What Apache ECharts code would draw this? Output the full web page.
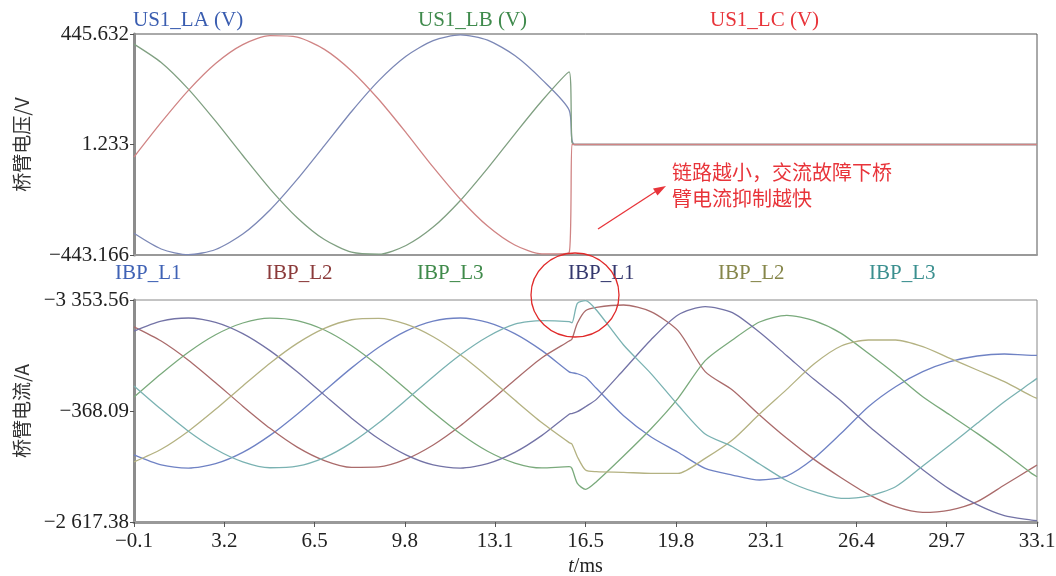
<!DOCTYPE html>
<html>
<head>
<meta charset="utf-8">
<title>桥臂电压与桥臂电流</title>
<script src="https://cdn.jsdelivr.net/npm/echarts@6/dist/echarts.min.js"></script>
<style>
  html, body { margin: 0; padding: 0; background: #fff; }
  #chartDom { width: 1056px; height: 576px; }
</style>
</head>
<body>
<div id="chartDom"></div>
<script>
// 时间轴 (ms)
var tVolt = [-0.1, 0.9, 1.9, 2.9, 3.9, 4.9, 5.9, 6.9, 7.9, 8.9, 9.9, 10.9, 11.9, 12.9, 13.9, 14.9, 15.9, 16.0, 16.1, 33.1];
var us1LA = [-356, -419, -442, -421, -359, -262, -139, -3, 134, 258, 356, 419, 442, 421, 359, 262, 139, 20, 1.2, 1.2];
var us1LB = [405, 331, 224, 95, -43, -177, -293, -381, -432, -440, -405, -331, -224, -95, 43, 177, 293, 10, 1.2, 1.2];
var us1LC = [-49, 90, 219, 327, 403, 439, 433, 384, 297, 182, 49, -90, -219, -327, -403, -439, -433, 1.2, 1.2, 1.2];

var tCur = [-0.1, 0.9, 1.9, 2.9, 3.9, 4.9, 5.9, 6.9, 7.9, 8.9, 9.9, 10.9, 11.9, 12.9, 13.9, 14.9, 15.9,
  16.0, 16.2, 16.5, 16.9, 17.9, 18.9, 19.9, 20.9, 21.9, 22.9, 23.9, 24.9, 25.9, 26.9, 27.9, 28.9, 29.9, 30.9, 31.9, 32.9, 33.1];
var ibpL1 = [-813, -1083, -1166, -1049, -746, -288, 283, 909, 1528, 2083, 2517, 2787, 2870, 2753, 2450, 1992, 1421,
  1400, 1370, 1274, 978, 241, -324, -743, -1174, -1354, -1488, -1381, -905, -232, 484, 1022, 1425, 1694, 1847, 1901, 1866, 1866];
var ibpL2 = [2632, 2250, 1734, 1128, 499, -98, -603, -964, -1148, -1136, -928, -546, -30, 576, 1205, 1802, 2250,
  2300, 2726, 3067, 3156, 3219, 3040, 2529, 1426, 932, 260, -368, -933, -1426, -1874, -2206, -2358, -2296, -2071, -1623, -1175, -1085];
var ibpL3 = [743, 1371, 1948, 2418, 2735, 2868, 2801, 2547, 2125, 1578, 961, 333, -244, -714, -1031, -1164, -1130,
  -1175, -1578, -1740, -1533, -843, -117, 708, 1722, 2278, 2762, 2941, 2798, 2457, 1919, 1354, 753, 260, -233, -753, -1309, -1399];
var ibpL1b = [2517, 2787, 2870, 2753, 2450, 1992, 1421, 795, 176, -379, -813, -1083, -1166, -1049, -746, -288, 283,
  300, 350, 484, 681, 1471, 2278, 2950, 3174, 3013, 2484, 1856, 1219, 637, -27, -628, -1210, -1740, -2152, -2448, -2565, -2583];
var ibpL2b = [-1000, -662, -175, 412, 1042, 1653, 2186, 2589, 2822, 2862, 2704, 2366, 1879, 1292, 662, 51, -482,
  -520, -861, -1220, -1265, -1282, -1309, -1309, -906, -413, 287, 950, 1632, 2116, 2278, 2278, 2098, 1784, 1471, 1157, 771, 708];
var ibpL3b = [1042, 412, -175, -662, -1000, -1158, -1117, -885, -482, 51, 662, 1292, 1879, 2366, 2704, 2800, 2770,
  2740, 3264, 3336, 3085, 2143, 1381, 529, -251, -592, -1058, -1507, -1802, -1982, -1919, -1668, -1112, -547, 36, 619, 1139, 1246];

// 刻度
var xTickVals = [-0.1, 3.22, 6.54, 9.86, 13.18, 16.5, 19.82, 23.14, 26.46, 29.78, 33.1];
var xTickText = ['\u22120.1', '3.2', '6.5', '9.8', '13.1', '16.5', '19.8', '23.1', '26.4', '29.7', '33.1'];
var voltTickVals = [-443.166, 1.233, 445.632];
var voltTickText = ['\u2212443.166', '1.233', '445.632'];
var curTickVals = [-2617.38, 368.09, 3353.56];
var curTickText = ['\u22122 617.38', '\u2212368.09', '\u22123 353.56'];

var serif = '"Liberation Serif", "DejaVu Serif", serif';
var cjk = '"Noto Sans CJK SC", sans-serif';

function pick(vals, texts) {
    return function (v) {
        var best = 0;
        for (var i = 1; i < vals.length; i++) {
            if (Math.abs(vals[i] - v) < Math.abs(vals[best] - v)) best = i;
        }
        return texts[best];
    };
}

function pairs(ts, vs) {
    return ts.map(function (t, i) { return [t, vs[i]]; });
}

function line(name, idx, ts, vs, color) {
    return {
        name: name, type: 'line', xAxisIndex: idx, yAxisIndex: idx,
        data: pairs(ts, vs), showSymbol: false, smooth: 0.25,
        lineStyle: { color: color, width: 1.3 }, itemStyle: { color: color }
    };
}

function yAxisOf(idx, min, max, vals, texts, name) {
    return {
        gridIndex: idx, type: 'value', min: min, max: max,
        splitLine: { show: false },
        axisLine: { show: true, onZero: false, lineStyle: { color: '#8c8c8c', width: 3 } },
        axisTick: { show: true, length: 4, customValues: vals, lineStyle: { color: '#555' } },
        axisLabel: { customValues: vals, formatter: pick(vals, texts), fontFamily: serif, fontSize: 21, color: '#222', margin: 5 },
        name: name, nameLocation: 'middle', nameRotate: 90, nameGap: 103,
        nameTextStyle: { fontFamily: cjk, fontSize: 19, color: '#333' }
    };
}

var legendTop = [
    { text: 'US1_LA (V)', x: 133, color: '#3a5db0' },
    { text: 'US1_LB (V)', x: 418, color: '#3f8a4c' },
    { text: 'US1_LC (V)', x: 710, color: '#e8343a' }
];
var legendBottom = [
    { text: 'IBP_L1', x: 115, color: '#3f62b5' },
    { text: 'IBP_L2', x: 266, color: '#8b3a3a' },
    { text: 'IBP_L3', x: 417, color: '#3f8a4a' },
    { text: 'IBP_L1', x: 568, color: '#34386e' },
    { text: 'IBP_L2', x: 718, color: '#86864a' },
    { text: 'IBP_L3', x: 869, color: '#3a8f8f' }
];

var graphics = [];
legendTop.forEach(function (d) {
    graphics.push({ type: 'text', x: d.x, y: 20, style: { text: d.text, fill: d.color, font: '21px ' + serif, textVerticalAlign: 'middle' } });
});
legendBottom.forEach(function (d) {
    graphics.push({ type: 'text', x: d.x, y: 273, style: { text: d.text, fill: d.color, font: '21px ' + serif, textVerticalAlign: 'middle' } });
});
graphics.push({
    type: 'text', x: 672, y: 185, z: 10,
    style: { text: '链路越小，交流故障下桥\n臂电流抑制越快', fill: '#e8343a', font: '20px ' + cjk, lineHeight: 26, textVerticalAlign: 'middle' }
});
graphics.push({ type: 'line', z: 10, shape: { x1: 598, y1: 229, x2: 658, y2: 190 }, style: { stroke: '#e8343a', lineWidth: 1.3 } });
graphics.push({ type: 'polygon', z: 10, shape: { points: [[666, 186], [657.5, 195.5], [653, 188.5]] }, style: { fill: '#e8343a' } });
graphics.push({ type: 'ellipse', z: 10, shape: { cx: 575, cy: 295, rx: 44, ry: 42 }, style: { fill: 'none', stroke: '#e02a2a', lineWidth: 1.3 } });

var chartDom = echarts.init(document.getElementById('chartDom'));
chartDom.setOption({
    backgroundColor: '#fff',
    animation: false,
    grid: [
        { left: 134, right: 19, top: 34, height: 221, outerBoundsMode: 'none', show: true, borderColor: '#555', borderWidth: 1, backgroundColor: 'transparent' },
        { left: 134, right: 19, top: 300, height: 222, outerBoundsMode: 'none', show: true, borderColor: '#888', borderWidth: 1, backgroundColor: 'transparent' }
    ],
    xAxis: [
        {
            gridIndex: 0, type: 'value', min: -0.1, max: 33.1,
            splitLine: { show: false }, axisTick: { show: false }, axisLabel: { show: false },
            axisLine: { show: true, onZero: false, lineStyle: { color: '#999', width: 2 } }
        },
        {
            gridIndex: 1, type: 'value', min: -0.1, max: 33.1,
            splitLine: { show: false },
            axisLine: { show: true, onZero: false, lineStyle: { color: '#999', width: 3 } },
            axisTick: { show: true, length: 5, customValues: xTickVals, lineStyle: { color: '#555' } },
            axisLabel: { customValues: xTickVals, formatter: pick(xTickVals, xTickText), fontFamily: serif, fontSize: 21, color: '#222', margin: 9 },
            name: '{i|t}/ms', nameLocation: 'middle', nameGap: 35,
            nameTextStyle: {
                fontFamily: serif, fontSize: 20, color: '#222',
                rich: { i: { fontFamily: serif, fontSize: 20, fontStyle: 'italic', color: '#222' } }
            }
        }
    ],
    yAxis: [
        yAxisOf(0, -443.166, 445.632, voltTickVals, voltTickText, '桥臂电压/V'),
        yAxisOf(1, -2617.38, 3353.56, curTickVals, curTickText, '桥臂电流/A')
    ],
    series: [
        line('US1_LA (V)', 0, tVolt, us1LA, '#7c88b6'),
        line('US1_LB (V)', 0, tVolt, us1LB, '#80a082'),
        line('US1_LC (V)', 0, tVolt, us1LC, '#d08484'),
        line('IBP_L1 上', 1, tCur, ibpL1, '#6f82c4'),
        line('IBP_L2 上', 1, tCur, ibpL2, '#aa6b6b'),
        line('IBP_L3 上', 1, tCur, ibpL3, '#7aaa7c'),
        line('IBP_L1 下', 1, tCur, ibpL1b, '#7373a6'),
        line('IBP_L2 下', 1, tCur, ibpL2b, '#b4b282'),
        line('IBP_L3 下', 1, tCur, ibpL3b, '#7ab2b2')
    ],
    graphic: graphics
});
</script>
</body>
</html>
